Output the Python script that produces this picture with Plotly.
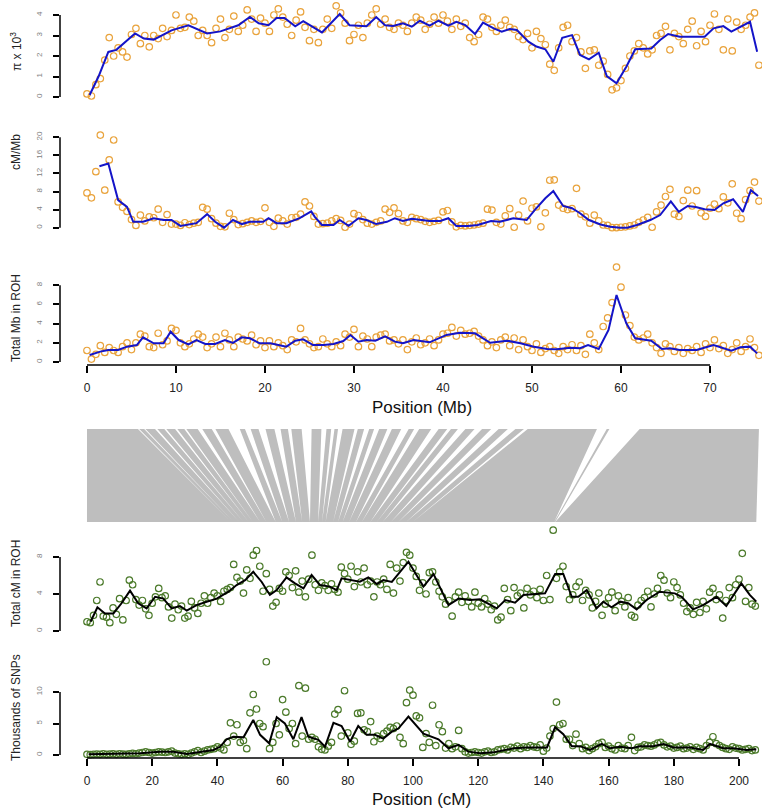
import numpy as np
import plotly.graph_objects as go

# window centres (Mb for the physical panels, cM for the genetic panels)
mb_pos = np.arange(0, 75.51, 0.5)
cm_pos = np.arange(0, 205.01, 1.0)

# nucleotide diversity (pi x 10^3) per window
pi_vals = [0.15, 0.05, 0.6, 0.9, 1.8, 2.9, 2.0, 2.4, 2.2, 1.95,
           3.05, 3.35, 2.6, 3.0, 2.45, 3.0, 2.85, 3.35, 2.95, 3.25,
           4.0, 3.35, 3.4, 3.9, 3.7, 3.0, 3.25, 3.0, 2.65, 3.35,
           3.8, 2.9, 3.3, 3.95, 3.2, 3.5, 4.25, 3.8, 3.2, 3.85,
           3.6, 3.2, 4.0, 4.3, 3.9, 3.55, 3.0, 3.75, 4.15, 3.4,
           2.75, 3.3, 2.65, 3.3, 3.8, 3.35, 4.45, 4.1, 3.6, 2.75,
           3.05, 3.5, 2.9, 3.6, 4.0, 4.3, 3.55, 3.8, 3.4, 3.3,
           3.6, 3.5, 3.2, 3.6, 3.9, 3.75, 3.3, 3.55, 3.9, 3.6,
           4.0, 3.7, 3.3, 3.8, 3.45, 3.6, 2.9, 2.7, 3.05, 3.9,
           3.8, 3.4, 3.2, 3.5, 3.75, 3.4, 3.3, 2.95, 2.8, 3.1,
           2.4, 3.2, 2.85, 2.55, 1.6, 1.3, 2.4, 3.4, 3.5, 2.7,
           2.9, 2.2, 1.4, 2.25, 2.3, 1.55, 1.75, 1.1, 0.35, 0.45,
           0.8, 1.4, 2.0, 2.25, 2.6, 2.4, 2.1, 2.3, 3.0, 3.1,
           3.45, 2.3, 3.1, 2.95, 2.6, 3.3, 3.7, 2.5, 3.2, 2.7,
           3.5, 4.05, 3.3, 2.3, 3.8, 2.25, 3.65, 3.3, 3.5, 3.9,
           4.1, 1.55]
pi_line_mb = [0.3, 1.3, 2.4, 3.3, 5.4, 6.4, 7.5, 9.5, 11.4, 13.5,
              15.0, 17.0, 18.3, 19.3, 20.4, 21.3, 22.2, 23.4, 24.3, 26.4,
              28.4, 29.5, 31.4, 32.5, 33.5, 34.4, 35.5, 36.5, 37.4, 38.5,
              39.5, 40.6, 41.5, 42.5, 43.6, 44.5, 45.7, 46.6, 47.5, 48.3,
              49.6, 50.5, 51.5, 52.4, 53.4, 54.5, 55.4, 56.4, 57.5, 58.4,
              59.5, 60.6, 61.6, 63.4, 64.4, 65.3, 66.6, 69.4, 70.4, 71.5,
              72.4, 73.6, 74.5, 75.3]
pi_line = [0.1, 1.0, 2.2, 2.3, 3.1, 2.85, 2.8, 3.25, 3.5, 3.1,
           3.2, 3.5, 3.9, 3.6, 3.5, 3.85, 3.85, 3.45, 3.7, 3.15,
           4.05, 3.5, 3.45, 3.9, 3.5, 3.46, 3.6, 3.43, 3.72, 3.48,
           3.72, 3.48, 3.67, 3.51, 3.07, 3.63, 3.35, 3.19, 3.32, 3.27,
           2.7, 2.46, 2.33, 1.72, 2.89, 3.02, 2.05, 1.84, 2.16, 1.02,
           0.67, 1.48, 2.33, 2.37, 2.78, 3.07, 2.94, 2.94, 3.35, 3.46,
           3.19, 3.46, 3.67, 2.21]

# recombination rate (cM/Mb)
rr_vals = [7.7, 6.6, 12.4, 20.5, 8.3, 15.0, 19.4, 5.7, 4.5, 3.6,
           1.8, 0.5, 2.8, 1.5, 2.4, 2.2, 4.1, 1.2, 2.9, 0.8,
           0.8, 0.5, 1.1, 0.7, 1.0, 1.2, 4.5, 4.1, 2.0, 1.0,
           0.3, 0.2, 3.2, 1.8, 0.7, 0.9, 1.2, 1.5, 1.2, 1.4,
           4.4, 1.2, 0.3, 2.1, 1.5, 0.8, 2.2, 2.3, 3.0, 5.7,
           4.8, 2.5, 0.8, 0.9, 1.0, 1.5, 2.0, 1.6, 0.1, 0.8,
           3.1, 2.7, 1.8, 1.0, 0.8, 1.2, 1.5, 4.1, 3.4, 4.4,
           3.1, 1.5, 1.2, 2.3, 2.0, 1.8, 1.4, 1.2, 1.4, 1.6,
           3.5, 3.8, 1.3, 0.2, 0.5, 0.4, 0.5, 0.6, 0.8, 1.0,
           4.1, 3.9, 1.2, 0.8, 2.6, 4.2, 0.1, 2.8, 5.9, 1.5,
           4.3, 4.6, 0.2, 3.3, 10.5, 10.6, 5.0, 4.3, 4.0, 4.2,
           8.7, 3.0, 2.4, 1.0, 2.8, 1.5, 0.6, 0.5, 0.0, 0.0,
           0.1, 0.2, 0.4, 0.6, 1.2, 1.7, 2.3, 0.1, 3.5, 5.0,
           6.9, 8.5, 3.0, 2.5, 6.0, 8.3, 4.8, 8.2, 3.3, 2.5,
           4.3, 5.2, 4.2, 6.8, 5.5, 9.7, 3.2, 2.0, 6.2, 8.2,
           10.1, 5.9]
rr_line_mb = [1.4, 2.4, 3.5, 4.5, 5.2, 6.3, 7.5, 8.6, 9.5, 10.5,
              12.3, 13.5, 14.4, 15.4, 16.4, 17.4, 18.3, 19.8, 20.4, 21.3,
              22.4, 23.9, 25.2, 25.6, 26.4, 27.7, 28.4, 29.4, 30.5, 31.4,
              32.5, 33.7, 34.6, 35.5, 36.5, 37.4, 38.5, 39.7, 40.6, 41.5,
              42.8, 43.9, 45.4, 46.4, 47.9, 49.4, 50.3, 51.5, 52.4, 53.5,
              54.5, 55.4, 56.4, 57.7, 58.8, 59.9, 60.7, 61.8, 63.3, 64.4,
              65.6, 66.5, 67.5, 68.4, 69.4, 70.5, 71.5, 72.6, 73.7, 74.6,
              75.4]
rr_line = [13.6, 14.2, 6.1, 4.6, 1.3, 1.3, 2.1, 1.7, 1.7, 0.4,
           1.0, 3.0, 1.3, 0.0, 1.7, 0.8, 1.3, 1.3, 2.1, 1.0,
           1.0, 2.1, 3.6, 2.4, 0.6, 0.6, 1.7, 0.4, 2.1, 1.7,
           0.8, 1.3, 2.1, 1.5, 2.0, 1.8, 1.5, 1.5, 2.1, 0.4,
           0.4, 0.6, 1.5, 1.3, 2.1, 1.7, 3.9, 6.5, 8.1, 4.8,
           4.3, 3.2, 1.7, 0.7, 0.2, 0.0, 0.0, 0.6, 1.7, 2.8,
           5.8, 3.5, 4.8, 4.6, 4.1, 3.9, 5.4, 6.3, 3.5, 8.3,
           7.0]

# total Mb in ROH
rohmb_vals = [1.2, 0.3, 0.8, 1.7, 1.0, 1.5, 1.2, 1.0, 1.6, 2.0,
              1.3, 2.0, 2.9, 2.7, 1.6, 1.5, 3.0, 1.8, 2.2, 3.5,
              3.3, 2.0, 1.6, 1.9, 2.4, 2.9, 2.6, 1.5, 1.9, 2.6,
              1.6, 3.0, 2.3, 1.6, 2.6, 2.4, 2.2, 2.8, 1.8, 2.2,
              1.5, 2.2, 1.6, 2.0, 1.7, 1.3, 2.3, 2.1, 3.5, 2.3,
              1.9, 1.5, 1.6, 2.4, 1.9, 1.6, 2.1, 1.7, 2.9, 2.6,
              3.4, 1.6, 2.7, 2.4, 1.6, 2.6, 2.8, 2.9, 2.2, 2.3,
              1.9, 2.3, 1.3, 2.1, 2.5, 1.8, 2.0, 2.4, 1.7, 2.3,
              2.9, 3.0, 3.6, 2.7, 3.3, 2.9, 3.0, 3.2, 2.7, 2.3,
              1.7, 2.1, 1.5, 2.3, 2.6, 1.7, 2.5, 1.3, 2.3, 1.6,
              1.2, 1.9, 1.0, 1.4, 1.6, 1.2, 0.9, 1.6, 1.3, 1.8,
              1.2, 1.7, 0.8, 2.9, 2.0, 1.3, 3.7, 4.6, 6.2, 9.9,
              7.8, 4.9, 3.8, 2.6, 2.3, 2.5, 2.9, 2.0, 1.5, 0.9,
              1.9, 1.6, 1.1, 1.5, 0.9, 1.4, 1.2, 1.6, 1.0, 1.9,
              1.5, 2.3, 1.4, 1.7, 0.9, 1.3, 2.0, 1.1, 1.6, 2.4,
              1.5, 0.7]
rohmb_line_mb = [0.3, 1.5, 2.4, 3.5, 4.5, 5.6, 6.3, 7.5, 8.6, 9.4,
                 10.3, 11.4, 12.3, 13.3, 14.4, 15.5, 16.4, 17.4, 18.3, 19.4,
                 20.6, 21.5, 22.4, 23.4, 24.3, 25.4, 26.6, 27.7, 28.8, 29.6,
                 30.5, 31.4, 32.4, 33.5, 34.6, 35.5, 36.7, 38.5, 40.4, 41.9,
                 43.6, 45.3, 47.2, 48.7, 50.2, 51.7, 52.8, 54.3, 55.4, 56.3,
                 57.5, 58.6, 59.5, 60.6, 61.6, 63.4, 64.6, 65.5, 66.6, 68.5,
                 70.4, 72.4, 73.4, 74.5, 75.3]
rohmb_line = [0.73, 1.08, 1.25, 1.25, 1.6, 1.77, 2.57, 1.95, 1.95, 3.16,
              2.29, 1.84, 2.29, 1.88, 1.88, 2.29, 2.0, 2.57, 2.47, 1.95,
              1.95, 1.77, 1.6, 2.22, 2.36, 1.77, 1.77, 1.88, 2.19, 2.82,
              2.12, 2.29, 2.22, 2.68, 2.12, 1.95, 2.29, 2.05, 2.82, 3.06,
              2.99, 2.0, 2.22, 1.95, 1.6, 1.36, 1.32, 1.49, 1.43, 1.77,
              1.36, 3.34, 6.99, 4.03, 2.47, 2.22, 1.36, 1.43, 1.25, 1.25,
              1.77, 1.18, 1.53, 1.6, 0.9]

# chromosome length on both maps
chr_mb = 75.5
chr_cm = 205.3
# marker-free stretches in the physical -> genetic map (white wedges)
gap_mb_left = [5.73, 6.43, 7.65, 8.69, 9.90, 10.94, 12.44, 14.02, 15.90, 17.75,
               19.27, 21.06, 22.58, 24.12, 26.34, 27.44, 28.21, 30.06, 31.14, 32.26,
               33.75, 35.31, 36.76, 38.68, 40.48, 41.68, 43.55, 45.42, 47.29, 49.10,
               57.30, 58.70]
gap_mb_right = [5.87, 6.57, 7.90, 8.91, 10.15, 11.16, 12.96, 14.43, 17.17, 18.39,
                20.06, 21.75, 22.96, 25.24, 26.91, 27.81, 28.72, 30.43, 31.71, 32.83,
                34.26, 36.15, 37.33, 39.52, 40.90, 42.52, 44.39, 46.26, 48.14, 49.52,
                58.40, 62.10]
gap_cm = [44.2, 45.0, 46.7, 48.0, 49.6, 50.9, 53.1, 55.0, 57.9, 59.9,
          62.0, 64.1, 66.0, 68.4, 70.9, 72.1, 73.2, 75.5, 77.0, 78.4,
          80.4, 82.5, 84.3, 86.9, 88.9, 90.7, 93.2, 95.5, 97.9, 99.9,
          143.3, 143.6]

# total cM in ROH
rohcm_vals = [1.0, 0.9, 1.7, 3.3, 5.3, 1.6, 1.5, 0.9, 2.5, 1.8,
              3.5, 1.2, 3.3, 5.5, 5.0, 3.4, 2.8, 3.3, 2.4, 1.7,
              3.0, 3.7, 4.6, 3.6, 3.8, 2.6, 1.4, 2.9, 2.3, 2.7,
              1.4, 1.6, 3.2, 2.5, 1.9, 3.0, 3.8, 3.0, 3.6, 4.1,
              3.8, 3.2, 4.3, 4.5, 4.7, 7.2, 5.8, 5.4, 4.1, 6.6,
              5.7, 8.2, 8.7, 7.0, 4.3, 6.2, 4.5, 2.7, 3.1, 4.6,
              4.3, 6.4, 6.0, 4.7, 6.5, 4.2, 5.4, 3.7, 5.6, 8.2,
              5.0, 4.4, 5.2, 4.9, 4.4, 5.1, 4.5, 4.2, 6.9, 6.2,
              5.6, 7.0, 4.8, 6.4, 5.3, 6.8, 5.0, 5.4, 3.7, 5.3,
              5.0, 5.6, 4.5, 7.2, 4.1, 6.8, 5.4, 7.4, 8.5, 8.2,
              6.8, 5.9, 4.4, 5.2, 4.0, 6.3, 6.4, 5.3, 4.3, 3.7,
              2.9, 3.3, 1.6, 3.7, 4.2, 3.1, 3.8, 3.2, 2.6, 4.2,
              3.0, 2.6, 3.5, 2.9, 2.3, 2.7, 1.2, 1.5, 4.6, 3.4,
              2.2, 4.7, 3.8, 4.1, 2.5, 4.6, 3.9, 4.3, 3.6, 4.5,
              3.3, 6.0, 3.4, 10.9, 5.7, 6.4, 7.0, 4.8, 3.4, 3.9,
              4.8, 5.3, 3.3, 4.4, 3.9, 2.5, 3.2, 4.1, 1.7, 2.9,
              3.6, 4.2, 2.2, 3.8, 3.2, 2.6, 3.6, 1.7, 1.5, 2.8,
              3.3, 3.6, 4.3, 2.6, 4.0, 4.6, 6.0, 5.5, 4.1, 3.6,
              5.3, 4.7, 3.9, 3.0, 2.1, 2.5, 1.8, 3.1, 2.0, 3.2,
              2.4, 4.2, 4.6, 3.4, 3.9, 1.4, 3.3, 4.7, 3.6, 5.0,
              5.6, 8.4, 3.2, 4.7, 2.9, 2.7]
rohcm_line_cm = [1.1, 3.2, 5.5, 8.1, 10.6, 13.2, 15.7, 18.3, 20.9, 23.4,
                 26.0, 28.5, 30.6, 33.6, 36.7, 39.8, 43.4, 45.9, 48.5, 51.0,
                 53.6, 56.1, 58.2, 61.2, 63.8, 66.4, 68.9, 71.5, 74.5, 76.6,
                 78.1, 81.7, 83.7, 86.3, 88.9, 90.9, 93.5, 98.6, 103.2, 106.3,
                 110.9, 114.0, 117.5, 120.6, 125.7, 128.3, 131.3, 133.9, 137.0, 140.5,
                 143.6, 146.1, 148.7, 150.7, 153.3, 156.3, 158.4, 160.9, 163.5, 166.0,
                 168.6, 171.6, 175.7, 180.3, 182.4, 185.9, 189.0, 193.1, 196.1, 200.7,
                 203.3, 205.3]
rohcm_line = [1.0, 2.56, 1.9, 1.9, 3.0, 4.36, 3.0, 2.45, 3.7, 3.5,
              2.45, 2.7, 2.2, 2.8, 3.17, 3.5, 4.25, 4.97, 5.5, 6.4,
              5.3, 3.9, 4.43, 5.8, 5.15, 4.6, 6.05, 4.97, 4.8, 4.43,
              5.7, 5.5, 5.33, 5.8, 5.08, 5.5, 5.3, 7.5, 4.8, 6.16,
              2.8, 3.5, 3.35, 3.42, 2.45, 3.35, 3.06, 3.9, 4.0, 4.07,
              6.16, 6.16, 3.7, 3.7, 4.43, 2.45, 3.17, 2.56, 3.17, 3.0,
              2.34, 3.35, 4.25, 4.07, 3.7, 2.34, 2.8, 3.7, 2.7, 5.15,
              3.9, 3.17]

# thousands of SNPs per cM window
snp_vals = [0.1, 0.05, 0.1, 0.15, 0.1, 0.2, 0.1, 0.15, 0.2, 0.1,
            0.2, 0.15, 0.1, 0.2, 0.25, 0.2, 0.3, 0.4, 0.5, 0.4,
            0.3, 0.4, 0.5, 0.45, 0.4, 0.5, 0.6, 0.3, 0.2, 0.1,
            0.2, 0.1, 0.3, 0.5, 0.7, 0.4, 0.6, 0.8, 0.9, 1.0,
            1.3, 1.1, 0.8, 2.0, 5.1, 3.0, 4.8, 2.0, 2.3, 1.0,
            6.7, 9.6, 7.3, 5.0, 4.5, 14.8, 1.0, 2.0, 5.0, 3.2,
            8.8, 6.8, 4.2, 5.0, 1.8, 11.0, 3.0, 10.6, 2.5, 2.8,
            2.5, 1.3, 0.9, 0.8, 1.4, 2.0, 6.5, 7.2, 3.0, 10.2,
            3.5, 1.7, 2.2, 6.6, 6.7, 4.0, 3.7, 5.3, 2.1, 3.0,
            2.6, 3.4, 3.8, 4.4, 4.2, 4.6, 2.8, 1.8, 8.3, 10.3,
            9.5, 6.2, 5.9, 1.2, 3.4, 2.0, 7.9, 1.5, 4.8, 3.7,
            1.1, 1.8, 1.0, 1.3, 3.9, 1.0, 0.5, 0.3, 0.4, 0.5,
            0.4, 0.3, 0.5, 0.6, 0.4, 0.5, 0.8, 0.9, 1.0, 0.8,
            1.2, 1.1, 1.4, 1.0, 1.3, 1.2, 1.5, 1.3, 1.2, 1.6,
            0.6, 1.1, 3.0, 4.2, 8.4, 4.8, 5.0, 2.5, 2.5, 1.5,
            3.3, 1.8, 1.0, 1.2, 0.7, 1.0, 1.3, 1.8, 2.0, 1.2,
            1.4, 1.0, 0.8, 1.5, 1.1, 1.0, 1.5, 2.8, 0.7, 1.2,
            1.3, 1.6, 1.5, 1.4, 1.6, 1.9, 2.0, 1.6, 1.3, 1.4,
            1.1, 1.2, 1.4, 1.0, 1.1, 1.3, 0.9, 1.2, 1.0, 0.8,
            1.5, 2.0, 2.9, 1.8, 1.5, 1.2, 1.0, 0.9, 1.3, 1.1,
            1.0, 0.8, 0.9, 1.0, 0.7, 0.8]
snp_line_cm = [0.5, 4.0, 16.3, 22.4, 26.5, 30.6, 34.7, 38.8, 40.8, 42.8,
               44.9, 48.0, 51.0, 53.1, 55.9, 58.2, 60.7, 63.3, 65.8, 67.9,
               71.0, 73.0, 75.6, 78.1, 80.7, 83.2, 85.8, 88.3, 90.9, 93.5,
               95.5, 98.6, 103.2, 107.8, 110.9, 114.0, 117.0, 120.6, 124.7, 130.8,
               134.9, 138.0, 141.1, 143.6, 146.1, 148.7, 151.2, 154.3, 157.9, 160.4,
               163.5, 167.1, 169.6, 173.7, 176.8, 179.9, 185.0, 189.0, 191.1, 195.2,
               198.3, 202.3, 205.3]
snp_line = [0.1, 0.16, 0.26, 0.5, 0.5, 0.16, 0.5, 0.8, 1.3, 2.5,
            2.9, 2.8, 5.55, 3.2, 1.85, 6.0, 5.0, 2.5, 6.0, 2.9,
            2.4, 1.3, 5.1, 4.6, 2.1, 4.6, 3.2, 3.2, 2.6, 3.7,
            4.2, 6.1, 3.4, 2.5, 1.06, 1.6, 0.53, 0.26, 0.42, 1.06,
            1.2, 1.2, 1.2, 4.4, 3.3, 1.4, 1.4, 0.8, 1.75, 1.06,
            1.3, 1.06, 1.4, 1.4, 1.75, 1.2, 1.2, 0.8, 1.75, 1.06,
            1.06, 0.8, 0.9]

mb_ticks = [0, 10, 20, 30, 40, 50, 60, 70]
cm_ticks = [0, 20, 40, 60, 80, 100, 120, 140, 160, 180, 200]

W, H = 762, 811
ORANGE = "#E9A33C"
BLUE = "#1414C8"
GREEN = "#4B7A2A"
GREY = "#BEBEBE"
FONT = "Liberation Sans, Arial, sans-serif"

MB_RANGE = [-3.03, 75.62]
CM_RANGE = [-8.28, 206.44]


def fy(p):
    return 1 - p / H


def cm_to_mb_axis(c):
    # place a cM position on the Mb-scaled axis so it lines up with the cM panels below
    return MB_RANGE[0] + (c - CM_RANGE[0]) * (MB_RANGE[1] - MB_RANGE[0]) / (CM_RANGE[1] - CM_RANGE[0])


fig = go.Figure()


def pts(x, y, color, ax):
    fig.add_trace(go.Scatter(x=x, y=y, mode="markers", xaxis="x" + ax, yaxis="y" + ax,
                             marker=dict(symbol="circle-open", size=6.5, color=color,
                                         line=dict(width=1.2, color=color)),
                             cliponaxis=False, showlegend=False, hoverinfo="skip"))


def smooth(x, y, color, ax):
    fig.add_trace(go.Scatter(x=x, y=y, mode="lines", xaxis="x" + ax, yaxis="y" + ax,
                             line=dict(color=color, width=2), cliponaxis=False,
                             showlegend=False, hoverinfo="skip"))


pts(mb_pos, pi_vals, ORANGE, "")
smooth(pi_line_mb, pi_line, BLUE, "")
pts(mb_pos, rr_vals, ORANGE, "2")
smooth(rr_line_mb, rr_line, BLUE, "2")
pts(mb_pos, rohmb_vals, ORANGE, "3")
smooth(rohmb_line_mb, rohmb_line, BLUE, "3")

# physical-to-genetic map links
band_x = [0, chr_mb, cm_to_mb_axis(chr_cm), cm_to_mb_axis(0), 0]
band_y = [1, 1, 0, 0, 1]
fig.add_trace(go.Scatter(x=band_x, y=band_y, mode="lines", fill="toself", fillcolor=GREY,
                         line=dict(width=0, color=GREY), xaxis="x4", yaxis="y4",
                         showlegend=False, hoverinfo="skip"))
gx, gy = [], []
for a, b, c in zip(gap_mb_left, gap_mb_right, gap_cm):
    gx += [a, b, cm_to_mb_axis(c), a, None]
    gy += [1, 1, 0, 1, None]
fig.add_trace(go.Scatter(x=gx, y=gy, mode="lines", fill="toself", fillcolor="white",
                         line=dict(width=0, color="white"), xaxis="x4", yaxis="y4",
                         showlegend=False, hoverinfo="skip"))

pts(cm_pos, rohcm_vals, GREEN, "5")
smooth(rohcm_line_cm, rohcm_line, "black", "5")
pts(cm_pos, snp_vals, GREEN, "6")
smooth(snp_line_cm, snp_line, "black", "6")

# panel geometry: (pixel top, pixel bottom, y range, ticks)
panels = {
    "": (5, 100, [-0.146, 4.488], [0, 1, 2, 3, 4]),
    "2": (132, 231, [-0.73, 21.17], [0, 4, 8, 12, 16, 20]),
    "3": (260, 365, [-0.313, 10.636], [0, 2, 4, 6, 8]),
    "4": (429, 522, [0, 1], None),
    "5": (527, 634, [-0.324, 11.243], [0, 4, 8]),
    "6": (658, 758, [-0.476, 15.397], [0, 5, 10]),
}

layout = dict(width=W, height=H, margin=dict(l=0, r=0, t=0, b=0),
              paper_bgcolor="white", plot_bgcolor="white",
              font=dict(family=FONT, color="#222"), showlegend=False)

shapes = []
for ax, (top, bot, yr, ticks) in panels.items():
    xr = CM_RANGE if ax in ("5", "6") else MB_RANGE
    xa = dict(domain=[60 / W, 760 / W], range=xr, anchor="y" + ax, showgrid=False,
              zeroline=False, showline=False, showticklabels=False, ticks="")
    ya = dict(domain=[fy(bot), fy(top)], range=yr, anchor="x" + ax, showgrid=False,
              zeroline=False, showline=False)
    if ticks is None:
        ya.update(showticklabels=False, ticks="")
    else:
        ya.update(tickvals=ticks, ticks="outside", ticklen=6, tickwidth=1.5,
                  tickcolor="black", tickangle=-90, ticklabelstandoff=8,
                  tickfont=dict(size=8, color="#808080", family=FONT))
        shapes.append(dict(type="line", xref="x" + ax + " domain", yref="y" + ax,
                           x0=0, x1=0, y0=ticks[0], y1=ticks[-1],
                           line=dict(color="black", width=1.5)))
    if ax in ("3", "6"):
        tv = mb_ticks if ax == "3" else cm_ticks
        xa.update(tickvals=tv, showticklabels=True, ticks="outside", ticklen=7,
                  tickwidth=1.5, tickcolor="black", ticklabelstandoff=5,
                  tickfont=dict(size=12, color="#222", family=FONT))
        shapes.append(dict(type="line", xref="x" + ax, yref="y" + ax + " domain",
                           x0=tv[0], x1=tv[-1], y0=0, y1=0,
                           line=dict(color="black", width=1.5)))
    layout["xaxis" + ax] = xa
    layout["yaxis" + ax] = ya

layout["shapes"] = shapes

ytitles = [("π x 10<sup>3</sup>", 52), ("cM/Mb", 152), ("Total Mb in ROH", 318),
           ("Total cM in ROH", 584), ("Thousands of SNPs", 708)]
ann = []
for text, ypx in ytitles:
    ann.append(dict(text=text, xref="paper", yref="paper", x=16 / W, y=fy(ypx),
                    textangle=-90, showarrow=False, xanchor="center", yanchor="middle",
                    font=dict(size=12, color="#222", family=FONT)))
ann.append(dict(text="Position (Mb)", xref="paper", yref="paper", x=422 / W, y=fy(408),
                showarrow=False, xanchor="center", yanchor="middle",
                font=dict(size=17, color="#111", family=FONT)))
ann.append(dict(text="Position (cM)", xref="paper", yref="paper", x=421 / W, y=fy(799),
                showarrow=False, xanchor="center", yanchor="middle",
                font=dict(size=17, color="#111", family=FONT)))
layout["annotations"] = ann

fig.update_layout(**layout)
# drop the browser's default 8px page margin so the figure sits at the window origin
fig.write_html("out.html", config={"displayModeBar": False},
               post_script="document.body.style.margin='0';")
